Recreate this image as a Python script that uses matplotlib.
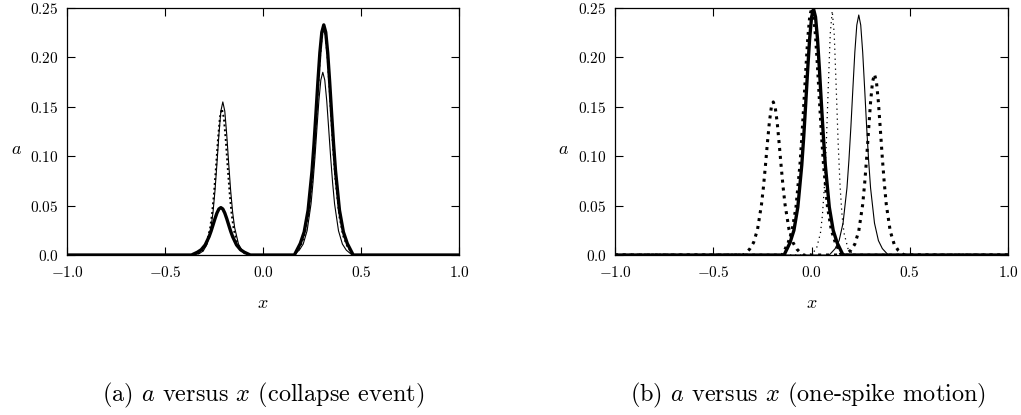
import matplotlib
matplotlib.use('Agg')
import matplotlib.pyplot as plt

plt.rcParams['mathtext.fontset'] = 'cm'

# ---- panel (a): collapse event ----
# thin solid curve (two spikes)
a_thin_x = [-1.0,
            -0.355, -0.325, -0.305, -0.285, -0.265, -0.255, -0.245, -0.235, -0.225, -0.215, -0.205,
            -0.195, -0.185, -0.175, -0.165, -0.155, -0.145, -0.125, -0.105, -0.085, -0.055,
            0.155, 0.185, 0.205, 0.225, 0.245, 0.255, 0.265, 0.275, 0.285, 0.295, 0.305,
            0.315, 0.325, 0.335, 0.345, 0.355, 0.365, 0.385, 0.405, 0.425, 0.455,
            1.0]
a_thin_y = [0.0,
            0.0, 0.0015, 0.0041, 0.0110, 0.0281, 0.0434, 0.0651, 0.0925, 0.1218, 0.1457, 0.155,
            0.1457, 0.1218, 0.0925, 0.0651, 0.0434, 0.0281, 0.0110, 0.0041, 0.0015, 0.0,
            0.0, 0.0049, 0.0111, 0.0246, 0.0518, 0.0733, 0.0990, 0.1280, 0.1563, 0.1772, 0.185,
            0.1772, 0.1563, 0.1280, 0.0990, 0.0733, 0.0518, 0.0246, 0.0111, 0.0049, 0.0,
            0.0]

# dotted curve
a_dot_x = [-1.0,
           -0.36, -0.33, -0.31, -0.29, -0.27, -0.26, -0.25, -0.24, -0.23, -0.22, -0.21,
           -0.20, -0.19, -0.18, -0.17, -0.16, -0.15, -0.13, -0.11, -0.09, -0.06,
           0.16, 0.19, 0.21, 0.23, 0.25, 0.26, 0.27, 0.28, 0.29, 0.30, 0.31,
           0.32, 0.33, 0.34, 0.35, 0.36, 0.37, 0.39, 0.41, 0.43, 0.46,
           1.0]
a_dot_y = [0.0,
           0.0, 0.0015, 0.0039, 0.0105, 0.0268, 0.0414, 0.0622, 0.0884, 0.1163, 0.1391, 0.148,
           0.1391, 0.1163, 0.0884, 0.0622, 0.0414, 0.0268, 0.0105, 0.0039, 0.0015, 0.0,
           0.0, 0.0089, 0.0189, 0.0386, 0.0757, 0.1021, 0.1339, 0.1677, 0.1990, 0.2217, 0.230,
           0.2217, 0.1990, 0.1677, 0.1339, 0.1021, 0.0757, 0.0386, 0.0189, 0.0089, 0.0,
           0.0]

# thick solid curve
a_thick_x = [-1.0,
             -0.365, -0.335, -0.315, -0.295, -0.275, -0.265, -0.255, -0.245, -0.235, -0.225, -0.215,
             -0.205, -0.195, -0.185, -0.175, -0.165, -0.155, -0.135, -0.115, -0.095, -0.065,
             0.16, 0.19, 0.21, 0.23, 0.25, 0.26, 0.27, 0.28, 0.29, 0.30, 0.31,
             0.32, 0.33, 0.34, 0.35, 0.36, 0.37, 0.39, 0.41, 0.43, 0.46,
             1.0]
a_thick_y = [0.0,
             0.0, 0.0028, 0.0054, 0.0102, 0.0186, 0.0241, 0.0304, 0.0368, 0.0425, 0.0466, 0.048,
             0.0466, 0.0425, 0.0368, 0.0304, 0.0241, 0.0186, 0.0102, 0.0054, 0.0028, 0.0,
             0.0, 0.0116, 0.0233, 0.0454, 0.0850, 0.1121, 0.1431, 0.1754, 0.2048, 0.2255, 0.233,
             0.2255, 0.2048, 0.1754, 0.1431, 0.1121, 0.0850, 0.0454, 0.0233, 0.0116, 0.0,
             0.0]

# ---- panel (b): one-spike motion ----
# bold dotted curve (two spikes, start)
b_start_x = [-1.0,
             -0.345, -0.315, -0.295, -0.275, -0.255, -0.245, -0.235, -0.225, -0.215, -0.205, -0.195,
             -0.185, -0.175, -0.165, -0.155, -0.145, -0.135, -0.115, -0.095, -0.075, -0.045,
             0.17, 0.20, 0.22, 0.24, 0.26, 0.27, 0.28, 0.29, 0.30, 0.31, 0.32,
             0.33, 0.34, 0.35, 0.36, 0.37, 0.38, 0.40, 0.42, 0.44, 0.47,
             1.0]
b_start_y = [0.0,
             0.0, 0.0060, 0.0127, 0.0260, 0.0510, 0.0688, 0.0902, 0.1130, 0.1341, 0.1494, 0.155,
             0.1494, 0.1341, 0.1130, 0.0902, 0.0688, 0.0510, 0.0260, 0.0127, 0.0060, 0.0,
             0.0, 0.0049, 0.0110, 0.0243, 0.0512, 0.0725, 0.0979, 0.1266, 0.1546, 0.1753, 0.183,
             0.1753, 0.1546, 0.1266, 0.0979, 0.0725, 0.0512, 0.0243, 0.0110, 0.0049, 0.0,
             0.0]

# thick solid spike near 0
b_thick_x = [-1.0, -0.14, -0.11, -0.09, -0.07, -0.05, -0.04, -0.03, -0.02, -0.01, 0.00, 0.01,
             0.02, 0.03, 0.04, 0.05, 0.06, 0.07, 0.09, 0.11, 0.13, 0.16, 1.0]
b_thick_y = [0.0, 0.0, 0.0124, 0.0249, 0.0486, 0.0909, 0.1198, 0.1529, 0.1875, 0.2189, 0.2410, 0.249,
             0.2410, 0.2189, 0.1875, 0.1529, 0.1198, 0.0909, 0.0486, 0.0249, 0.0124, 0.0, 0.0]

# bold dotted spike on top of the thick one
b_dot2_x = [-1.0, -0.15, -0.12, -0.10, -0.08, -0.06, -0.05, -0.04, -0.03, -0.02, -0.01, 0.00,
            0.01, 0.02, 0.03, 0.04, 0.05, 0.06, 0.08, 0.10, 0.12, 0.15, 1.0]
b_dot2_y = [0.0, 0.0, 0.0125, 0.0250, 0.0488, 0.0913, 0.1203, 0.1535, 0.1883, 0.2198, 0.2420, 0.250,
            0.2420, 0.2198, 0.1883, 0.1535, 0.1203, 0.0913, 0.0488, 0.0250, 0.0125, 0.0, 0.0]

# fine dotted spike
b_fine_x = [-1.0, -0.045, -0.015, 0.005, 0.025, 0.045, 0.055, 0.065, 0.075, 0.085, 0.095, 0.105,
            0.115, 0.125, 0.135, 0.145, 0.155, 0.165, 0.185, 0.205, 0.225, 0.255, 1.0]
b_fine_y = [0.0, 0.0, 0.0, 0.0019, 0.0066, 0.0222, 0.0400, 0.0692, 0.1141, 0.1709, 0.2243, 0.247,
            0.2243, 0.1709, 0.1141, 0.0692, 0.0400, 0.0222, 0.0066, 0.0019, 0.0, 0.0, 0.0]

# thin solid spike
b_thin_x = [-1.0, 0.09, 0.12, 0.14, 0.16, 0.18, 0.19, 0.20, 0.21, 0.22, 0.23, 0.24,
            0.25, 0.26, 0.27, 0.28, 0.29, 0.30, 0.32, 0.34, 0.36, 0.39, 1.0]
b_thin_y = [0.0, 0.0, 0.0065, 0.0146, 0.0323, 0.0680, 0.0962, 0.1300, 0.1682, 0.2053, 0.2328, 0.243,
            0.2328, 0.2053, 0.1682, 0.1300, 0.0962, 0.0680, 0.0323, 0.0146, 0.0065, 0.0, 0.0]

x_ticks = [-1.0, -0.5, 0.0, 0.5, 1.0]
x_tick_labels = ['$-1.0$', '$-0.5$', '$0.0$', '$0.5$', '$1.0$']
y_ticks = [0.0, 0.05, 0.10, 0.15, 0.20, 0.25]
y_tick_labels = ['$0.0$', '$0.05$', '$0.10$', '$0.15$', '$0.20$', '$0.25$']

captions = ['(a) $a$ versus $x$ (collapse event)',
            '(b) $a$ versus $x$ (one-spike motion)']

fig = plt.figure(figsize=(10.21, 4.15), dpi=100)
ax1 = fig.add_axes([0.0656, 0.3855, 0.384, 0.595])
ax2 = fig.add_axes([0.6024, 0.3855, 0.385, 0.595])

ax1.plot(a_thin_x, a_thin_y, color='k', lw=0.8)
ax1.plot(a_dot_x, a_dot_y, color='k', lw=1.4, linestyle=(0, (1, 1.5)))
ax1.plot(a_thick_x, a_thick_y, color='k', lw=2.4)

ax2.plot(b_start_x, b_start_y, color='k', lw=2.2, linestyle=(0, (1, 1.6)))
ax2.plot(b_thick_x, b_thick_y, color='k', lw=2.4)
ax2.plot(b_dot2_x, b_dot2_y, color='k', lw=2.0, linestyle=(0, (1, 1.6)))
ax2.plot(b_fine_x, b_fine_y, color='k', lw=0.9, linestyle=(0, (1, 3)))
ax2.plot(b_thin_x, b_thin_y, color='k', lw=0.8)

for ax in (ax1, ax2):
    ax.set_xlim(-1.0, 1.0)
    ax.set_ylim(0.0, 0.25)
    ax.set_xticks(x_ticks)
    ax.set_xticklabels(x_tick_labels)
    ax.set_yticks(y_ticks)
    ax.set_yticklabels(y_tick_labels)
    ax.tick_params(direction='in', length=6, width=0.8, labelsize=11,
                   top=True, right=True)
    ax.tick_params(axis='x', pad=7)
    ax.tick_params(axis='y', pad=6)
    for s in ax.spines.values():
        s.set_linewidth(0.9)
    ax.set_xlabel('$x$', fontsize=13, labelpad=10)
    ax.set_ylabel('$a$', fontsize=13, rotation=0, labelpad=14, va='center')
    ax.yaxis.set_label_coords(-0.13, 0.43)

fig.text(0.2576, 0.048, captions[0], family='cmr10', fontsize=17.5, ha='center', va='center')
fig.text(0.791, 0.048, captions[1], family='cmr10', fontsize=17.5, ha='center', va='center')

fig.savefig('out.png', dpi=100)
